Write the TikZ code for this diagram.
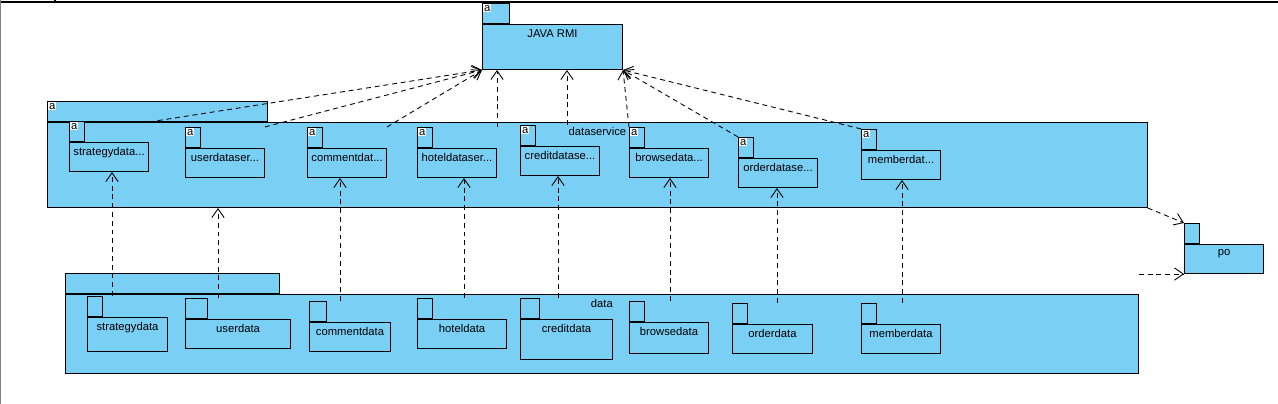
\documentclass[tikz,border=0pt]{standalone}
\usepackage{fontspec}
\setmainfont{Liberation Sans}
\usepackage{xcolor}
\usetikzlibrary{positioning,arrows.meta}
\definecolor{pkgblue}{RGB}{122,207,245}

\begin{document}
\begin{tikzpicture}[
  x=0.02cm, y=-0.02cm,
  every node/.style={font=\fontsize{6.4}{7}\selectfont},
  pkgbody/.style={rectangle, draw, fill=pkgblue, line width=0.6pt, anchor=north west, inner sep=0pt},
  pkgtab/.style={rectangle, draw, fill=pkgblue, line width=0.6pt, anchor=south west, inner sep=0pt, minimum width=0.3cm, minimum height=0.4cm},
  pkgname/.style={anchor=north, inner sep=0pt, yshift=-0.11cm},
  abox/.style={anchor=north west, fill=white, inner sep=0.5pt, xshift=0.02cm, yshift=-0.02cm},
  dep/.style={-{Straight Barb[length=5pt,width=7pt]}, dash pattern=on 2.8pt off 2.2pt, line width=0.5pt},
]
  \useasboundingbox (0,0) rectangle (1278,404);
  % window frame
  \draw[line width=0.8pt] (0,2) -- (1278,2);
  \draw[line width=0.6pt] (55,0) -- (55,2);
  \draw[gray, line width=1pt] (0.5,0) -- (0.5,404);

  % JAVA RMI
  \node[pkgbody, minimum width=2.8cm, minimum height=0.9cm, label={[pkgname]north:JAVA RMI}] (rmi) at (482,24) {};
  \node[pkgtab, minimum width=0.54cm, label={[abox]north west:a}] (rmi-tab) at (rmi.north west) {};

  % dataservice
  \node[pkgbody, minimum width=22cm, minimum height=1.7cm, label={[pkgname]north:dataservice}] (dsvc) at (47,122) {};
  \node[pkgtab, minimum width=4.4cm, label={[abox]north west:a}] (dsvc-tab) at (dsvc.north west) {};

  \node[pkgbody, minimum width=1.58cm, minimum height=0.58cm, label={[pkgname]north:strategydata...}] (sstrategy) at (69,142) {};
  \node[pkgtab, label={[abox]north west:a}] (sstrategy-tab) at (sstrategy.north west) {};
  \node[pkgbody, minimum width=1.58cm, minimum height=0.58cm, label={[pkgname]north:userdataser...}] (suser) at (185,148) {};
  \node[pkgtab, label={[abox]north west:a}] (suser-tab) at (suser.north west) {};
  \node[pkgbody, minimum width=1.58cm, minimum height=0.58cm, label={[pkgname]north:commentdat...}] (scomment) at (307,148) {};
  \node[pkgtab, label={[abox]north west:a}] (scomment-tab) at (scomment.north west) {};
  \node[pkgbody, minimum width=1.58cm, minimum height=0.58cm, label={[pkgname]north:hoteldataser...}] (shotel) at (417,148) {};
  \node[pkgtab, label={[abox]north west:a}] (shotel-tab) at (shotel.north west) {};
  \node[pkgbody, minimum width=1.58cm, minimum height=0.58cm, label={[pkgname]north:creditdatase...}] (scredit) at (520,146) {};
  \node[pkgtab, label={[abox]north west:a}] (scredit-tab) at (scredit.north west) {};
  \node[pkgbody, minimum width=1.58cm, minimum height=0.58cm, label={[pkgname]north:browsedata...}] (sbrowse) at (629,148) {};
  \node[pkgtab, label={[abox]north west:a}] (sbrowse-tab) at (sbrowse.north west) {};
  \node[pkgbody, minimum width=1.58cm, minimum height=0.58cm, label={[pkgname]north:orderdatase...}] (sorder) at (738,158) {};
  \node[pkgtab, label={[abox]north west:a}] (sorder-tab) at (sorder.north west) {};
  \node[pkgbody, minimum width=1.58cm, minimum height=0.58cm, label={[pkgname]north:memberdat...}] (smember) at (861,150) {};
  \node[pkgtab, label={[abox]north west:a}] (smember-tab) at (smember.north west) {};

  % po
  \node[pkgbody, minimum width=1.58cm, minimum height=0.58cm, label={[pkgname]north:po}] (po) at (1184,244) {};
  \node[pkgtab] (po-tab) at (po.north west) {};

  % data
  \node[pkgbody, minimum width=21.46cm, minimum height=1.58cm, label={[pkgname]north:data}] (data) at (65,294) {};
  \node[pkgtab, minimum width=4.28cm] (data-tab) at (data.north west) {};

  \node[pkgbody, minimum width=1.6cm, minimum height=0.68cm, label={[pkgname]north:strategydata}] (dstrategy) at (87,317) {};
  \node[pkgtab] (dstrategy-tab) at (dstrategy.north west) {};
  \node[pkgbody, minimum width=2.1cm, minimum height=0.58cm, label={[pkgname]north:userdata}] (duser) at (185,319) {};
  \node[pkgtab, minimum width=0.44cm] (duser-tab) at (duser.north west) {};
  \node[pkgbody, minimum width=1.62cm, minimum height=0.58cm, label={[pkgname]north:commentdata}] (dcomment) at (309,322) {};
  \node[pkgtab, minimum width=0.34cm] (dcomment-tab) at (dcomment.north west) {};
  \node[pkgbody, minimum width=1.78cm, minimum height=0.58cm, label={[pkgname]north:hoteldata}] (dhotel) at (417,319) {};
  \node[pkgtab] (dhotel-tab) at (dhotel.north west) {};
  \node[pkgbody, minimum width=1.84cm, minimum height=0.8cm, label={[pkgname]north:creditdata}] (dcredit) at (520,319) {};
  \node[pkgtab, minimum width=0.38cm] (dcredit-tab) at (dcredit.north west) {};
  \node[pkgbody, minimum width=1.58cm, minimum height=0.62cm, label={[pkgname]north:browsedata}] (dbrowse) at (629,322) {};
  \node[pkgtab] (dbrowse-tab) at (dbrowse.north west) {};
  \node[pkgbody, minimum width=1.6cm, minimum height=0.58cm, label={[pkgname]north:orderdata}] (dorder) at (732,324) {};
  \node[pkgtab] (dorder-tab) at (dorder.north west) {};
  \node[pkgbody, minimum width=1.58cm, minimum height=0.58cm, label={[pkgname]north:memberdata}] (dmember) at (861,324) {};
  \node[pkgtab] (dmember-tab) at (dmember.north west) {};

  % dataservice -> JAVA RMI
  \draw[dep] (sstrategy.north east |- dsvc.north) -- (rmi.south west);
  \draw[dep] (suser-tab.north -| suser.north east) -- (rmi.south west);
  \draw[dep] (scomment-tab.north -| scomment.north east) -- (rmi.south west);
  \draw[dep] (shotel-tab.north -| shotel.north east) -- (shotel.north east |- rmi.south);
  \draw[dep] (567,0 |- scredit-tab.north) -- (567,0 |- rmi.south);
  \draw[dep] (sbrowse-tab.north west) -- (rmi.south east);
  \draw[dep] (sorder-tab.north west) -- (rmi.south east);
  \draw[dep] (smember-tab.north west) -- (rmi.south east);

  % data -> dataservice
  \draw[dep] (112,0 |- dstrategy-tab.north) -- (112,0 |- sstrategy.south);
  \draw[dep] (218,0 |- duser-tab.north) -- (218,0 |- dsvc.south);
  \draw[dep] (340,0 |- dcomment-tab.north) -- (340,0 |- scomment.south);
  \draw[dep] (464,0 |- dhotel-tab.north) -- (464,0 |- shotel.south);
  \draw[dep] (558,0 |- dcredit-tab.north) -- (558,0 |- scredit.south);
  \draw[dep] (670,0 |- dbrowse-tab.north) -- (670,0 |- sbrowse.south);
  \draw[dep] (777,0 |- dorder-tab.north) -- (777,0 |- sorder.south);
  \draw[dep] (902,0 |- dmember-tab.north) -- (902,0 |- smember.south);

  % -> po
  \draw[dep] (dsvc.south east) -- (po-tab.north west);
  \draw[dep] (data.north east |- po.south west) -- (po.south west);
\end{tikzpicture}
\end{document}
